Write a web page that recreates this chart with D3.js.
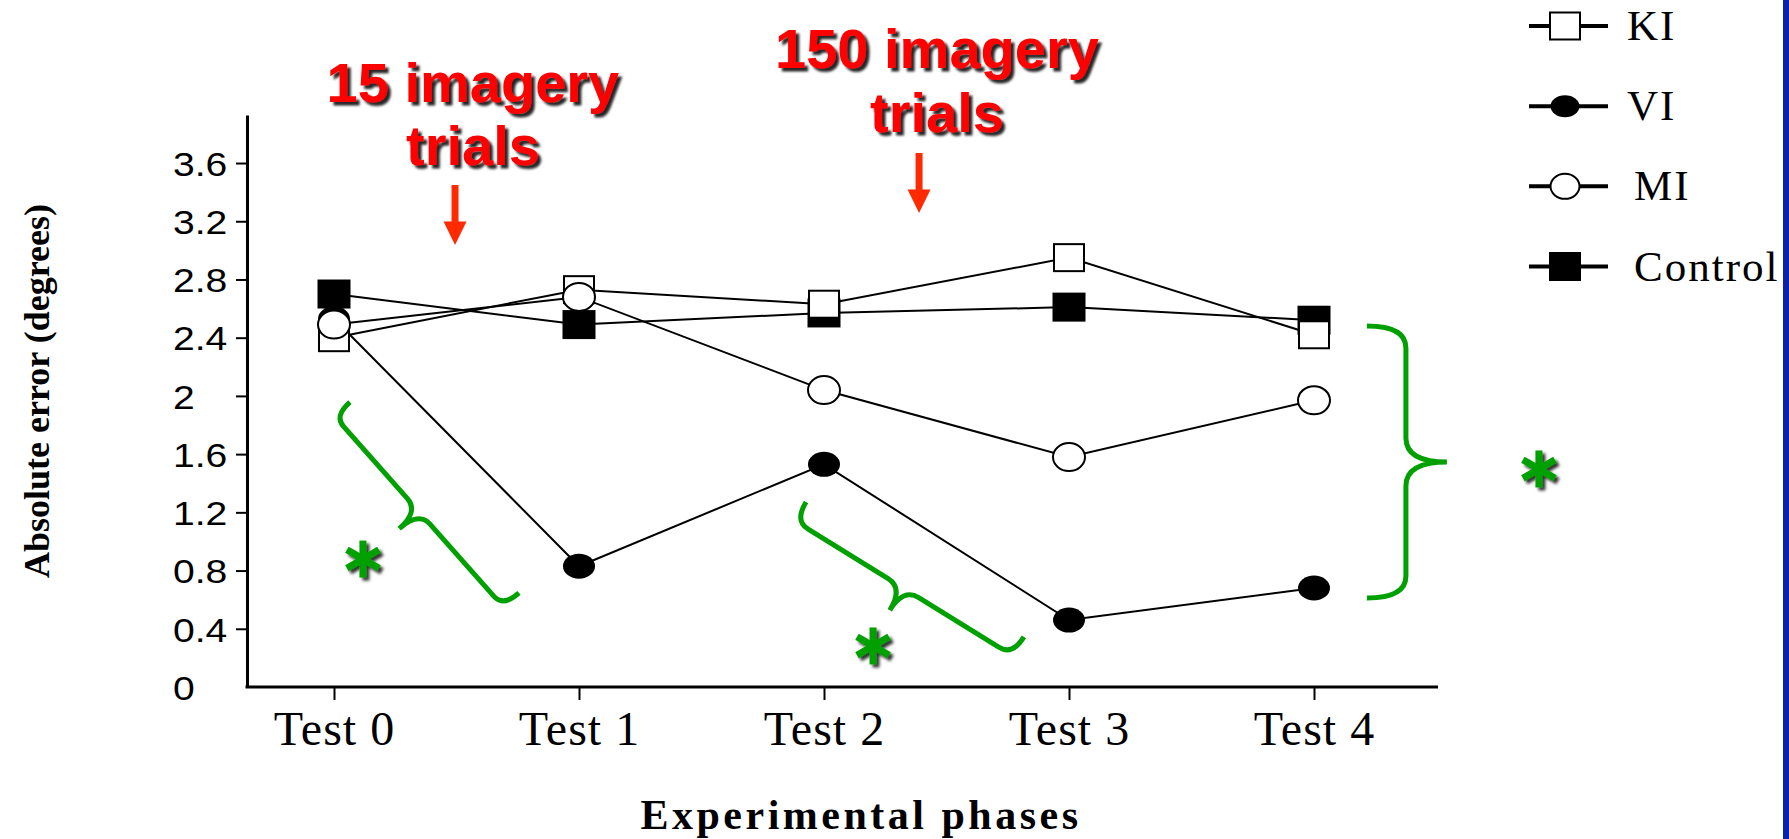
<!DOCTYPE html>
<html><head><meta charset="utf-8">
<script src="https://cdn.jsdelivr.net/npm/d3@7"></script>
<style>html,body{margin:0;padding:0;background:#fff;overflow:hidden}</style>
</head><body>
<svg id="chart" width="1789" height="839"></svg>
<script>
// ---------- data ----------
const categories = ["Test 0", "Test 1", "Test 2", "Test 3", "Test 4"];
const seriesNames = ["KI", "VI", "MI", "Control"];
const kiValues = [2.40, 2.73, 2.63, 2.95, 2.42];
const viValues = [2.53, 0.83, 1.53, 0.46, 0.68];
const miValues = [2.49, 2.68, 2.04, 1.58, 1.97];
const controlValues = [2.70, 2.49, 2.57, 2.61, 2.52];
const yTickValues = [0, 0.4, 0.8, 1.2, 1.6, 2, 2.4, 2.8, 3.2, 3.6];
const yTickLabels = ["0", "0.4", "0.8", "1.2", "1.6", "2", "2.4", "2.8", "3.2", "3.6"];
const xAxisTitle = "Experimental phases";
const yAxisTitle = "Absolute error (degrees)";
const noteTexts = [["15 imagery", "trials"], ["150 imagery", "trials"]];

// ---------- layout / style ----------
const W = 1789, H = 839;
const svg = d3.select("#chart");
const AXIS_X = 247, AXIS_RIGHT = 1438;
const x = d3.scalePoint().domain(categories).range([334, 1314]);
const xi = d3.scaleLinear().domain([0, categories.length - 1]).range(x.range());
const y = d3.scaleLinear().domain([0, 3.93]).range([687, 115]);

const series = [
  {name: "KI", values: kiValues, shape: "rect", fill: "#fff", w: 30, h: 27},
  {name: "VI", values: viValues, shape: "ellipse", fill: "#000", w: 32, h: 25},
  {name: "MI", values: miValues, shape: "ellipse", fill: "#fff", w: 32, h: 28},
  {name: "Control", values: controlValues, shape: "rect", fill: "#000", w: 31, h: 27}
];
const byName = Object.fromEntries(series.map(s => [s.name, s]));
const markerOrder = ["VI", "Control", "KI", "MI"];

const GREEN = "#00a000";

// filters
const defs = svg.append("defs");
const f1 = defs.append("filter").attr("id", "shadowRed").attr("x", "-10%").attr("y", "-10%").attr("width", "130%").attr("height", "140%");
f1.append("feDropShadow").attr("dx", 3.5).attr("dy", 3.5).attr("stdDeviation", 1.3).attr("flood-color", "#000").attr("flood-opacity", 0.85);
const f2 = defs.append("filter").attr("id", "shadowGreen").attr("x", "-40%").attr("y", "-40%").attr("width", "190%").attr("height", "190%");
f2.append("feDropShadow").attr("dx", 3).attr("dy", 3).attr("stdDeviation", 1.6).attr("flood-color", "#000").attr("flood-opacity", 0.8);

svg.append("rect").attr("width", W).attr("height", H).attr("fill", "#fff");
svg.append("rect").attr("x", 1783).attr("y", 0).attr("width", 6).attr("height", H).attr("fill", "#0b22a8");

// ---------- axes ----------
const yAxis = d3.axisLeft(y).tickValues(yTickValues)
  .tickFormat((d, i) => yTickLabels[i]).tickSize(11).tickSizeOuter(0);
const gy = svg.append("g").attr("transform", `translate(${AXIS_X},0)`).call(yAxis);
gy.attr("font-size", null).attr("font-family", null);
gy.select(".domain").attr("stroke", "#000").attr("stroke-width", 3);
gy.selectAll(".tick line").attr("stroke", "#000").attr("stroke-width", 2)
  .attr("opacity", d => d === 0 ? 0 : 1);
gy.selectAll(".tick text").attr("text-anchor", "start").attr("x", 0).attr("dy", "0.36em")
  .attr("transform", `translate(${173 - AXIS_X},0) scale(1.15,1)`)
  .attr("fill", "#000")
  .attr("font-family", "'Liberation Sans', Arial, sans-serif").attr("font-size", 34)
  .style("font-family", "'Liberation Sans', Arial, sans-serif").style("font-size", "34px");

const xAxis = d3.axisBottom(x).tickSize(13).tickSizeOuter(0);
const gx = svg.append("g").attr("transform", `translate(0,${y(0)})`).call(xAxis);
gx.attr("font-size", null).attr("font-family", null);
gx.select(".domain").remove();
gx.selectAll(".tick line").attr("stroke", "#000").attr("stroke-width", 2);
gx.selectAll(".tick text").attr("y", 58).attr("dy", 0).attr("fill", "#000")
  .style("font-family", "'Liberation Serif', 'Times New Roman', serif").style("font-size", "48px")
  .style("letter-spacing", "1px");
svg.append("line").attr("x1", AXIS_X - 1.5).attr("x2", AXIS_RIGHT)
  .attr("y1", y(0)).attr("y2", y(0)).attr("stroke", "#000").attr("stroke-width", 3);

svg.append("text").attr("x", 861).attr("y", 829).attr("text-anchor", "middle")
  .style("font-family", "'Liberation Serif', serif").style("font-weight", "bold")
  .style("font-size", "42px").style("letter-spacing", "3.5px").text(xAxisTitle);

svg.append("text").attr("transform", "translate(49,391) rotate(-90)").attr("text-anchor", "middle")
  .style("font-family", "'Liberation Serif', serif").style("font-weight", "bold")
  .style("font-size", "36px").text(yAxisTitle);

// ---------- series ----------
const line = d3.line().x((d, i) => x(categories[i])).y(d => y(d));
const gLines = svg.append("g");
series.forEach(s => {
  gLines.append("path").datum(s.values).attr("d", line)
    .attr("fill", "none").attr("stroke", "#000").attr("stroke-width", 2);
});

function drawMarker(g, s, cx, cy) {
  if (s.shape === "rect") {
    g.append("rect").attr("x", cx - s.w / 2).attr("y", cy - s.h / 2)
      .attr("width", s.w).attr("height", s.h)
      .attr("fill", s.fill).attr("stroke", "#000").attr("stroke-width", 2);
  } else {
    g.append("ellipse").attr("cx", cx).attr("cy", cy)
      .attr("rx", s.w / 2).attr("ry", s.h / 2)
      .attr("fill", s.fill).attr("stroke", "#000").attr("stroke-width", s.fill === "#000" ? 0 : 2);
  }
}
const gMarks = svg.append("g");
markerOrder.forEach(n => {
  const s = byName[n];
  s.values.forEach((v, i) => drawMarker(gMarks, s, x(categories[i]), y(v)));
});

// ---------- annotations ----------
function bracePath(p0, p1, a, c, r, s) {
  const dx = p1[0] - p0[0], dy = p1[1] - p0[1];
  const L = Math.hypot(dx, dy);
  const ux = dx / L, uy = dy / L, nx = -uy, ny = ux;
  const pt = (u, w) => [p0[0] + u * ux + w * nx, p0[1] + u * uy + w * ny];
  const p = d3.path();
  let q;
  p.moveTo(...pt(0, 0));
  q = pt(0, a); p.quadraticCurveTo(q[0], q[1], ...pt(r, a));
  p.lineTo(...pt(L / 2 - s, a));
  q = pt(L / 2, a); p.quadraticCurveTo(q[0], q[1], ...pt(L / 2, c));
  p.quadraticCurveTo(q[0], q[1], ...pt(L / 2 + s, a));
  p.lineTo(...pt(L - r, a));
  q = pt(L, a); p.quadraticCurveTo(q[0], q[1], ...pt(L, 0));
  return p.toString();
}
const braces = [
  {from: [0.065, 1.958], to: [0.755, 0.646], arm: 21, tip: 47, hook: 14, bend: 17},
  {from: [1.927, 1.271], to: [2.816, 0.344], arm: 22, tip: 48, hook: 16, bend: 18},
  {from: [4.216, 0.611], to: [4.216, 2.480], arm: 39, tip: 80, hook: 22, bend: 24}
];
braces.forEach(b => {
  svg.append("path")
    .attr("d", bracePath([xi(b.from[0]), y(b.from[1])], [xi(b.to[0]), y(b.to[1])], b.arm, b.tip, b.hook, b.bend))
    .attr("fill", "none").attr("stroke", GREEN).attr("stroke-width", 5);
});
const asterisks = [[0.118, 0.879], [2.2, 0.282], [4.918, 1.498]];
asterisks.forEach(([i, v]) => {
  const cx = xi(i), cy = y(v), R = 18.5;
  const g = svg.append("g").attr("filter", "url(#shadowGreen)");
  [90, 30, -30].forEach(deg => {
    const t = deg * Math.PI / 180;
    g.append("line").attr("x1", cx - R * Math.cos(t)).attr("y1", cy - R * Math.sin(t))
      .attr("x2", cx + R * Math.cos(t)).attr("y2", cy + R * Math.sin(t))
      .attr("stroke", GREEN).attr("stroke-width", 7);
  });
});

// red phase notes with arrows
const notes = [
  {text: noteTexts[0], at: 0.567, base: 101.7, arrowAt: 0.494, top: 185, tip: 245},
  {text: noteTexts[1], at: 2.461, base: 68.3, arrowAt: 2.388, top: 153, tip: 213}
];
notes.forEach(n => {
  const t = svg.append("text").attr("text-anchor", "middle").attr("fill", "#ff0000")
    .attr("filter", "url(#shadowRed)")
    .style("font-family", "'Liberation Sans', Arial, sans-serif").style("font-weight", "bold")
    .style("font-size", "56px");
  n.text.forEach((s, k) => t.append("tspan").attr("x", xi(n.at)).attr("y", n.base + k * 63.4).text(s));
  const ax = xi(n.arrowAt), headH = 23.5, headW = 23;
  svg.append("line").attr("x1", ax).attr("x2", ax).attr("y1", n.top).attr("y2", n.tip - headH + 1)
    .attr("stroke", "#ff2a00").attr("stroke-width", 7);
  svg.append("path")
    .attr("d", `M${ax - headW / 2},${n.tip - headH} L${ax + headW / 2},${n.tip - headH} L${ax},${n.tip} Z`)
    .attr("fill", "#ff2a00");
});

// ---------- legend ----------
const ly = d3.scalePoint().domain(seriesNames).range([26, 266.5]);
const gLeg = svg.append("g");
seriesNames.forEach(n => {
  const s = byName[n], cy = ly(n);
  gLeg.append("line").attr("x1", 1529).attr("x2", 1608).attr("y1", cy).attr("y2", cy)
    .attr("stroke", "#000").attr("stroke-width", 4);
  const ls = Object.assign({}, s, {w: s.shape === "rect" ? 30 : 29, h: s.shape === "rect" ? 27 : (s.fill === "#000" ? 22 : 25)});
  drawMarker(gLeg, ls, 1565, cy);
  gLeg.append("text").attr("x", n === "KI" || n === "VI" ? 1627 : 1634).attr("y", cy + 14)
    .style("font-family", "'Liberation Serif', 'Times New Roman', serif").style("font-size", "43px")
    .style("letter-spacing", "2px").attr("fill", "#000").text(n);
});
</script>
</body></html>
